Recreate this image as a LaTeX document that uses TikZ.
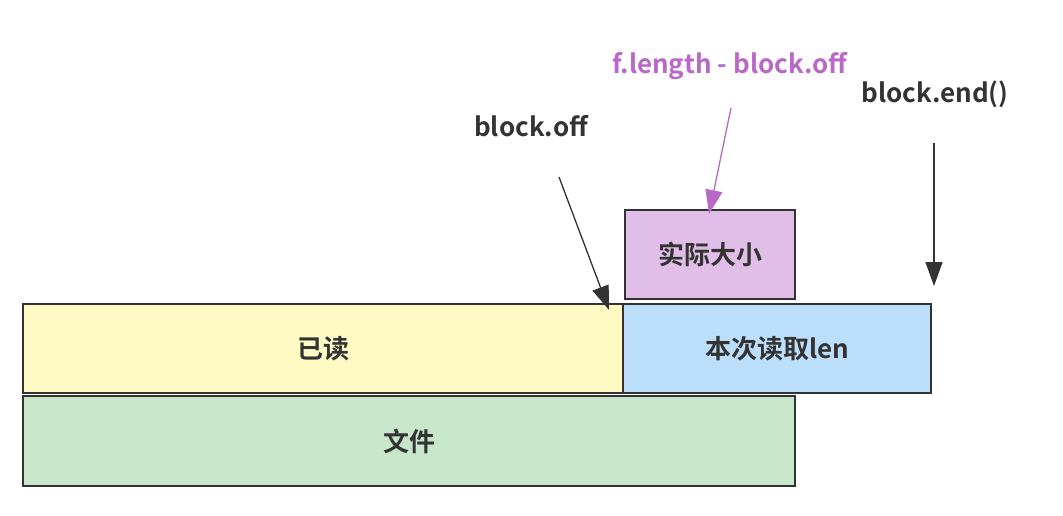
\documentclass[tikz,border=0pt]{standalone}
\usepackage{fontspec}
\setmainfont{Noto Sans CJK SC}[BoldFont={Noto Sans CJK SC Bold}]
\usetikzlibrary{arrows.meta}
\definecolor{ink}{HTML}{333333}
\definecolor{readyel}{HTML}{FFF9C4}
\definecolor{lenblue}{HTML}{BBDEFB}
\definecolor{filegreen}{HTML}{C8E6C9}
\definecolor{sizepink}{HTML}{E1BEE7}
\definecolor{sizeline}{HTML}{BA68C8}
\tikzset{
  seg/.style={draw=ink, line width=1.6pt, text=ink, font=\fontsize{26}{30}\selectfont\bfseries, inner sep=0pt},
  mark label/.style={text=ink, font=\fontsize{26}{30}\selectfont\bfseries, inner sep=0pt},
  pointer/.style={draw=ink, line width=1.3pt, -{Triangle[length=24pt, width=17pt]}}
}

\begin{document}
\begin{tikzpicture}[x=1pt, y=-1pt]
          \useasboundingbox (0,0) rectangle (1063,516);
          \node[seg, fill=readyel, minimum width=600pt, minimum height=89pt] (done) at (323,348.5) {已读};
          \node[seg, fill=lenblue, minimum width=308pt, minimum height=89pt] (len) at (777,348.5) {本次读取len};
          \node[seg, fill=filegreen, minimum width=772pt, minimum height=90pt] (file) at (409,441) {文件};
          \node[seg, fill=sizepink, minimum width=170pt, minimum height=89pt] (size) at (710,254.5) {实际大小};

          \node[mark label] (off) at (531,126) {block.off};
          \node[mark label, text=sizeline] (flen) at (730,66) {f.length - block.off};
          \node[mark label] (bend) at (935,94) {block.end()};

          \coordinate (offtail) at (559,177);
          \coordinate (offhead) at (609,310);
          \coordinate (flentail) at (731,108);
          \coordinate (flenhead) at (709,214);
          \coordinate (bendtail) at (934,143);
          \coordinate (bendhead) at (934,286);

          \draw[pointer] (offtail) -- (offhead);
          \draw[pointer, draw=sizeline, fill=sizeline] (flentail) -- (flenhead);
          \draw[pointer, fill=ink] (bendtail) -- (bendhead);
        \end{tikzpicture}
\end{document}
